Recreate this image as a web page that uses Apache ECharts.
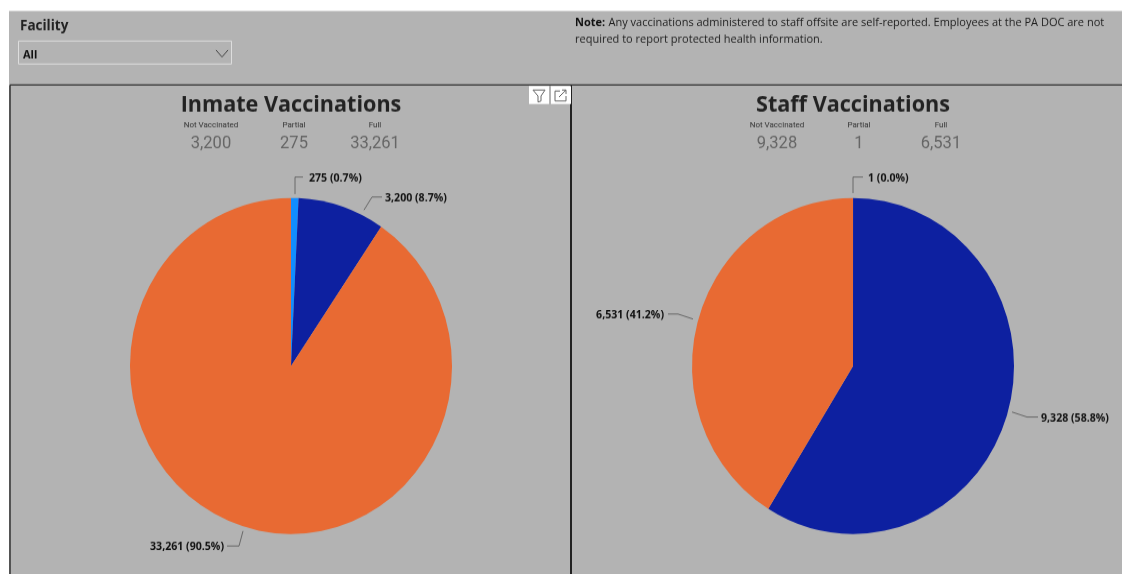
<!DOCTYPE html>
<html><head><meta charset="utf-8">
<style>html,body{margin:0;padding:0;background:#fff;overflow:hidden}
#c{position:absolute;left:0;top:0;width:1122px;height:550px;transform-origin:0 0;transform:scaleY(1.04364)}</style>
<script src="https://cdn.jsdelivr.net/npm/echarts@6/dist/echarts.min.js"></script>
</head><body><div id="c"></div>
<script>
const categories = ['Partial','Not Vaccinated','Full'];
const inmateValues = [275,3200,33261];
const staffValues = [1,9328,6531];
const sliceColors = ['#118DFF','#0D20A0','#E86A33'];
const kpiOrder = [1,0,2];
const Y = 574/550;
const y = v => v/Y;
const F = '"Open Sans","Noto Sans",sans-serif';
const KF = 'Roboto,"Open Sans",sans-serif';
const fmtN = n => n.toLocaleString('en-US');
const inmateCallouts = [
  {x:309,y:178,align:'left',line:[[295,194],[295,177],[303,177]]},
  {x:385,y:198,align:'left',line:[[364,210],[372,197],[382,197]]},
  {x:224,y:547,align:'right',line:[[243,531],[239,546],[227,546]]}
];
const staffCallouts = [
  {x:868,y:178,align:'left',line:[[853,193],[853,177],[863,177]]},
  {x:1041,y:418,align:'left',line:[[1012,412],[1027,417],[1038,417]]},
  {x:664,y:315,align:'right',line:[[693,319],[678,314],[668,314]]}
];
function pie(values, cx, callouts){
  const total = values.reduce((a,b)=>a+b,0);
  return {type:'pie', center:[cx,y(366)], radius:[0,161], startAngle:90, clockwise:true, animation:false, silent:true,
    minAngle:0, avoidLabelOverlap:false,
    data:categories.map((c,i)=>({name:c,value:values[i],itemStyle:{color:sliceColors[i]}})),
    label:{show:true,position:'outside',color:'#111',fontFamily:F,fontSize:10.6,fontWeight:'bold',
      formatter:p=>fmtN(p.value)+' ('+(p.value/total*100).toFixed(1)+'%)'},
    labelLine:{show:true,length:14,length2:10,smooth:false,lineStyle:{color:'#555',width:0.8}},
    labelLayout:p=>{const c=callouts[p.dataIndex];
      return {x:c.x,y:y(c.y),align:c.align,verticalAlign:'middle',
        labelLinePoints:c.line.map(q=>[q[0],y(q[1])])};}
  };
}
function text(x,yy,s,size,color,weight,align,fam){
  return {type:'text',x:x,y:y(yy),style:{text:s,fontSize:size,fill:color,fontWeight:weight||'normal',fontFamily:fam||F,align:align||'left',verticalAlign:'middle'}};
}
function rect(x,yy,w,h,fill,stroke,lw){
  return {type:'rect',shape:{x:x,y:y(yy),width:w,height:h/Y},style:{fill:fill,stroke:stroke||null,lineWidth:lw||0}};
}
function line(pts,color,lw){
  return {type:'polyline',shape:{points:pts.map(p=>[p[0],y(p[1])])},style:{stroke:color,fill:null,lineWidth:lw}};
}
const g = [
  rect(9,11,1113,563,'#B3B3B3'),
  text(20,26.5,'Facility',13.5,'#222','bold'),
  rect(18.5,41,213,23,'#B3B3B3','#DDDDDD',1),
  text(23,55,'All',11,'#111','bold'),
  line([[216,50],[222,57],[228,50]],'#444',1),
  {type:'text',x:575,y:y(23),style:{rich:{b:{fontWeight:'bold',fontSize:11,fontFamily:F,fill:'#111'},n:{fontSize:11,fontFamily:F,fill:'#222'}},
    text:'{b|Note:} {n|Any vaccinations administered to staff offsite are self-reported. Employees at the PA DOC are not}',verticalAlign:'middle'}},
  text(575,39,'required to report protected health information.',11,'#222'),
  line([[10,85],[1122,85]],'#333',1.2),
  line([[10,85],[10,574]],'#333',1.5),
  line([[571,85],[571,574]],'#222',2),
  text(291,105.5,'Inmate Vaccinations',21.6,'#222','bold','center'),
  text(853,105.5,'Staff Vaccinations',21.6,'#222','bold','center'),
  rect(529,86,20,18,'#fff'),rect(551,86,20,18,'#fff'),
  line([[533,90],[545,90],[541,96],[541,101],[538,102],[538,96],[533,90]],'#666',1),
  line([[560,91],[555,91],[555,101],[566,101],[566,96]],'#666',1),
  line([[559,97],[566,90]],'#666',1),line([[562,90],[566,90],[566,94]],'#666',1)
];
[[211,294,375,inmateValues],[777,859,941,staffValues]].forEach(a=>{
  kpiOrder.forEach((k,i)=>{
    g.push(text(a[i],125,categories[k],8,'#333','normal','center',KF));
    g.push(text(a[i],143.5,fmtN(a[3][k]),16.5,'#666','normal','center',KF));
  });
});
const chart = echarts.init(document.getElementById('c'),null,{renderer:'canvas',width:1122,height:550});
chart.setOption({animation:false,backgroundColor:'transparent',graphic:{elements:g},
  series:[pie(inmateValues,291,inmateCallouts),pie(staffValues,853,staffCallouts)]});
</script></body></html>
